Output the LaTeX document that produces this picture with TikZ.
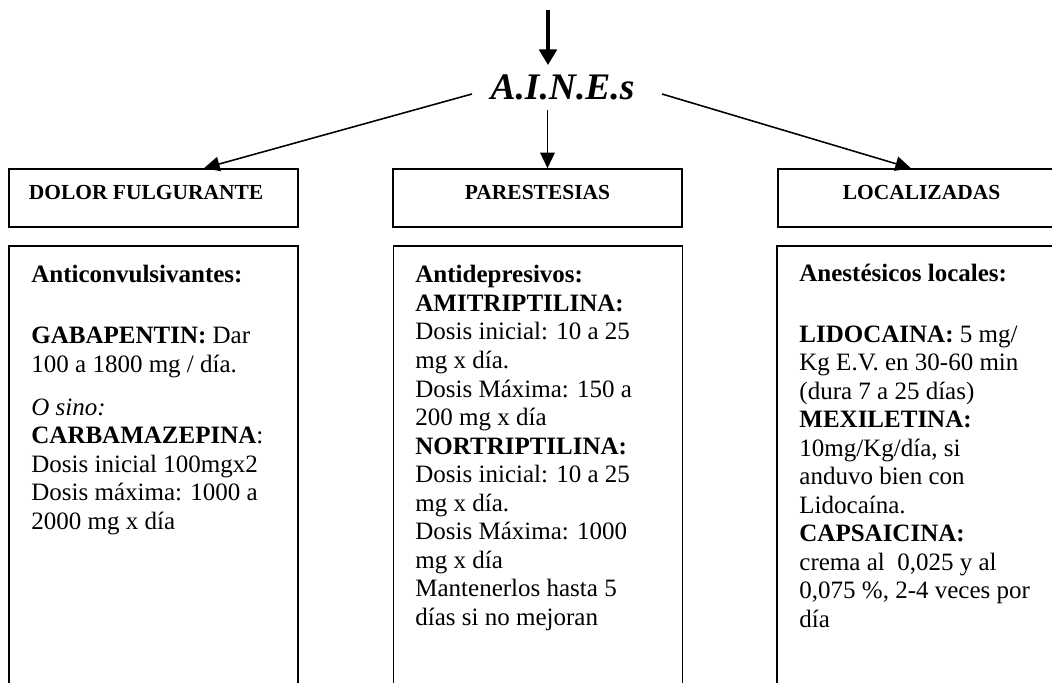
\documentclass[tikz,border=0pt]{standalone}
\usepackage{fontspec}
\setmainfont{Liberation Serif}
\usetikzlibrary{arrows.meta}
\begin{document}
\begin{tikzpicture}[x=0.48pt,y=-0.48pt,
  boxline/.style={draw=black, line width=0.75pt},
  hdrbox/.style={boxline, minimum width=138.72pt, minimum height=27.84pt, inner sep=0pt},
  bodybox/.style={boxline, minimum width=138.72pt, minimum height=227.52pt, inner sep=0pt},
  hdrtext/.style={font=\fontsize{10.3}{12}\selectfont\bfseries, inner sep=0pt, anchor=base},
  bodytext/.style={font=\fontsize{12}{13.68}\selectfont, align=left, inner sep=0pt, anchor=base west},
  thinarrow/.style={line width=0.75pt, -{Triangle[length=7.5pt,width=7pt]}},
  bigarrow/.style={line width=1.5pt, -{Triangle[length=7.5pt,width=8.5pt]}},
  ]
\useasboundingbox (0,0) rectangle (1052,683);
% fragment of the line above
\node[font=\fontsize{16}{18}\selectfont\bfseries, anchor=base, inner sep=0pt] (gfrag) at (800,-7) {g};
% title
\node[font=\fontsize{18}{21}\selectfont\bfseries\itshape, anchor=base, inner sep=0pt] (aines) at (562.5,100) {A.I.N.E.s};
% header boxes
\node[hdrbox] (hdr1) at (153.5,198) {};
\node[hdrbox] (hdr2) at (537.5,198) {};
\node[hdrbox] (hdr3) at (922.5,198) {};
\node[hdrtext] (h1) at (146,200) {DOLOR FULGURANTE};
\node[hdrtext] (h2) at (537.5,200) {PARESTESIAS};
\node[hdrtext] (h3) at (921.5,200) {LOCALIZADAS};
% body boxes
\node[bodybox] (body1) at (153.5,483) {};
\node[bodybox] (body2) at (538,483) {};
\node[bodybox] (body3) at (921.5,483) {};
% anchor base west = baseline of the last line
\node[bodytext] (t1) at (31,529.4) {\textbf{Anticonvulsivantes:}\\[15.55pt]
\textbf{GABAPENTIN:} Dar\\
100 a 1800 mg / día.\\[7.1pt]
\textit{O sino:}\\
\textbf{CARBAMAZEPINA}:\\
Dosis inicial 100mgx2\\
Dosis máxima: 1000 a\\
2000 mg x día};
\node[bodytext] (t2) at (415,625) {\textbf{Antidepresivos:}\\
\textbf{AMITRIPTILINA:}\\
Dosis inicial: 10 a 25\\
mg x día.\\
Dosis Máxima: 150 a\\
200 mg x día\\
\textbf{NORTRIPTILINA:}\\
Dosis inicial: 10 a 25\\
mg x día.\\
Dosis Máxima: 1000\\
mg x día\\
Mantenerlos hasta 5\\
días si no mejoran};
\node[bodytext] (t3) at (799,627) {\textbf{Anestésicos locales:}\\[15.2pt]
\textbf{LIDOCAINA:} 5 mg/\\
Kg E.V. en 30-60 min\\
(dura 7 a 25 días)\\
\textbf{MEXILETINA:}\\
10mg/Kg/día, si\\
anduvo bien con\\
Lidocaína.\\
\textbf{CAPSAICINA:}\\
crema al\ \ 0,025 y al\\
0,075 \%, 2-4 veces por\\
día};
% connectors
\coordinate (topc) at (548,10);
\draw[bigarrow] (topc) -- (548,65);
\coordinate (dn) at (547.5,110);
\draw[thinarrow] (dn) -- (dn |- hdr2.north);
\coordinate (l0) at (472,94);
\draw[thinarrow] (l0) -- ([xshift=24.24pt]hdr1.north);
\coordinate (r0) at (662,94);
\draw[thinarrow] (r0) -- ([xshift=-5.52pt]hdr3.north);
\end{tikzpicture}
\end{document}
